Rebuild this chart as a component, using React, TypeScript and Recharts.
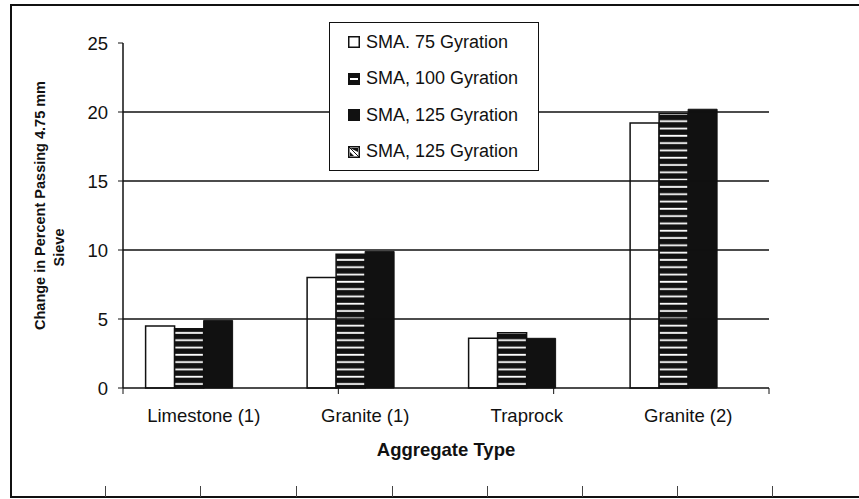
import React from "react";
import { BarChart, Bar, XAxis, YAxis, ReferenceLine, Label } from "recharts";

const categories = ["Limestone (1)", "Granite (1)", "Traprock", "Granite (2)"];
const sma75 = [4.5, 8.0, 3.6, 19.2];
const sma100 = [4.3, 9.7, 4.0, 19.9];
const sma125 = [4.9, 9.9, 3.6, 20.2];
const sma125b: (number | null)[] = [null, null, null, null];
const seriesNames = ["SMA. 75 Gyration", "SMA, 100 Gyration", "SMA, 125 Gyration", "SMA, 125 Gyration"];
const yTicks = [0, 5, 10, 15, 20, 25];
const gridValues = [5, 10, 15, 20];
const boundaryTicks = [0, 1, 2, 3, 4];

// stray tick marks from the scanned page, along the bottom edge
const edgeMarks = [105, 200, 296, 392, 487, 582, 677, 772];

const FONT = "'Liberation Sans', Arial, sans-serif";
const INK = "#111";

function Swatch({ kind }: { kind: number }) {
  return (
    <svg width={12} height={12} style={{ marginRight: 6, flex: "none" }}>
      {kind === 0 && <rect x={0.75} y={0.75} width={10.5} height={10.5} fill="#fff" stroke={INK} strokeWidth={1.5} />}
      {kind === 1 && (
        <g>
          <rect x={0} y={0} width={12} height={12} fill={INK} />
          <rect x={2} y={5} width={8} height={2} fill="#fff" />
        </g>
      )}
      {kind === 2 && <rect x={0} y={0} width={12} height={12} fill={INK} />}
      {kind === 3 && (
        <g>
          <rect x={0.75} y={0.75} width={10.5} height={10.5} fill="#fff" stroke={INK} strokeWidth={1.5} />
          <path d="M2 2 L10 2 L10 6 Z M2 6 L6 10 L2 10 Z" fill={INK} />
          <line x1={1} y1={1} x2={11} y2={11} stroke={INK} strokeWidth={1} />
        </g>
      )}
    </svg>
  );
}

function LegendBox() {
  return (
    <div
      style={{
        position: "absolute",
        left: 329,
        top: 22,
        border: `1.5px solid ${INK}`,
        background: "#fff",
        padding: "1px 20px 0 18px",
        fontFamily: FONT,
        fontSize: 18,
        color: INK,
      }}
    >
      {seriesNames.map((n, i) => (
        <div key={i} style={{ display: "flex", alignItems: "center", height: 36.5 }}>
          <Swatch kind={i} />
          <span>{n}</span>
        </div>
      ))}
    </div>
  );
}

function YTitle(props: any) {
  const vb = props.viewBox;
  const cy = vb.y + vb.height / 2;
  return (
    <g fontFamily={FONT} fontWeight="bold" fontSize={14.5} fill={INK}>
      <text transform={`translate(40, ${cy - 10}) rotate(-90)`} textAnchor="middle" dominantBaseline="central">
        Change in Percent Passing 4.75 mm
      </text>
      <text transform={`translate(59, ${cy + 32}) rotate(-90)`} textAnchor="middle" dominantBaseline="central">
        Sieve
      </text>
    </g>
  );
}

export default function App() {
  const data = categories.map((name, i) => ({
    name,
    s75: sma75[i],
    s100: sma100[i],
    s125: sma125[i],
    s125b: sma125b[i],
  }));

  return (
    <div
      style={{
        position: "fixed",
        left: 0,
        top: 0,
        width: 859,
        height: 499,
        overflow: "hidden",
        background: "#fff",
        fontFamily: FONT,
      }}
    >
      <div
        style={{
          position: "absolute",
          left: 10,
          top: 4,
          width: 900,
          height: 494,
          border: `2px solid ${INK}`,
          boxSizing: "border-box",
        }}
      />
      {edgeMarks.map((x) => (
        <div key={x} style={{ position: "absolute", left: x, top: 486, width: 1, height: 11, background: "#444" }} />
      ))}
      <div style={{ position: "absolute", left: 0, top: 0 }}>
        <BarChart
          width={859}
          height={499}
          data={data}
          margin={{ top: 43, right: 90, bottom: 40, left: 0 }}
          barCategoryGap="14%"
          barGap={0}
        >
          <defs>
            <pattern id="hstripe" patternUnits="userSpaceOnUse" width={8} height={7.3}>
              <rect x={0} y={0} width={8} height={7.3} fill={INK} />
              <rect x={0} y={3.5} width={8} height={1.8} fill="#fff" />
            </pattern>
            <pattern id="diag" patternUnits="userSpaceOnUse" width={6} height={6}>
              <rect width={6} height={6} fill="#fff" />
              <path d="M0 0 L6 6" stroke={INK} strokeWidth={2} />
            </pattern>
          </defs>
          <XAxis
            xAxisId="a_edges"
            type="number"
            domain={[0, 4]}
            allowDataOverflow
            ticks={boundaryTicks}
            tickFormatter={() => ""}
            height={1}
            tickSize={6}
            axisLine={{ stroke: INK, strokeWidth: 1.5 }}
            tickLine={{ stroke: INK, strokeWidth: 1 }}
          />
          <XAxis
            xAxisId="b_cats"
            dataKey="name"
            height={70}
            axisLine={false}
            tickLine={false}
            tickMargin={14}
            tick={{ fill: INK, fontSize: 18.5, fontFamily: FONT }}
          >
            <Label
              value="Aggregate Type"
              position="insideTop"
              offset={54}
              style={{ fill: INK, fontSize: 18.5, fontWeight: "bold", fontFamily: FONT }}
            />
          </XAxis>
          <YAxis
            width={123}
            domain={[0, 25]}
            ticks={yTicks}
            interval={0}
            tickSize={5}
            tickMargin={10}
            axisLine={{ stroke: INK, strokeWidth: 1.5 }}
            tickLine={{ stroke: INK, strokeWidth: 1 }}
            tick={{ fill: INK, fontSize: 18.5, fontFamily: FONT }}
          >
            <Label content={<YTitle />} />
          </YAxis>
          {gridValues.map((v) => (
            <ReferenceLine key={v} y={v} xAxisId="b_cats" stroke={INK} strokeWidth={1.3} />
          ))}
          <Bar xAxisId="b_cats" dataKey="s75" name={seriesNames[0]} fill="#fff" stroke={INK} strokeWidth={1.5} isAnimationActive={false} />
          <Bar xAxisId="b_cats" dataKey="s100" name={seriesNames[1]} fill="url(#hstripe)" stroke={INK} strokeWidth={1.5} isAnimationActive={false} />
          <Bar xAxisId="b_cats" dataKey="s125" name={seriesNames[2]} fill={INK} stroke={INK} strokeWidth={1} isAnimationActive={false} />
          <Bar xAxisId="b_cats" dataKey="s125b" name={seriesNames[3]} fill="url(#diag)" stroke={INK} strokeWidth={1} isAnimationActive={false} />
        </BarChart>
      </div>
      <LegendBox />
    </div>
  );
}
